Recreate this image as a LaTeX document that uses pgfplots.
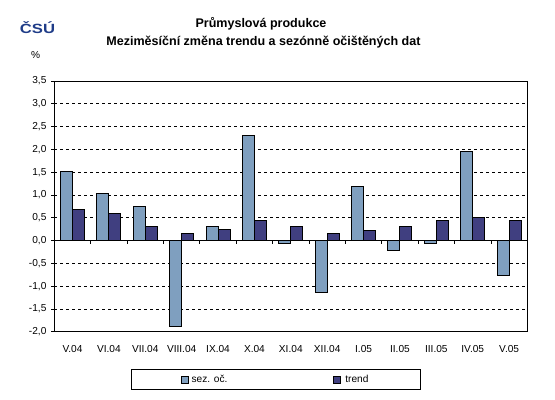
\documentclass[border=0pt]{standalone}
\usepackage{pgfplots}
\pgfplotsset{compat=1.18}
\usepackage{fontspec}
\setmainfont{Liberation Sans}
\definecolor{cSez}{HTML}{7F9FBF}
\definecolor{cTr}{HTML}{403F80}
\definecolor{cLogo}{HTML}{1F3C88}
\begin{document}
\begin{tikzpicture}
\path[use as bounding box] (0,0) rectangle (416.25pt,-299.25pt);
\node[font=\bfseries\fontsize{9.4}{11}\selectfont] at (195.75pt,-18.2pt) {Průmyslová produkce};
\node[font=\bfseries\fontsize{9.4}{11}\selectfont] at (197.6pt,-31.7pt) {Meziměsíční změna trendu a sezónně očištěných dat};
\node[font=\fontsize{7.6}{9}\selectfont] at (26.8pt,-41.25pt) {\%};
\node[font=\bfseries\fontsize{10}{11}\selectfont, text=cLogo] at (28.1pt,-21pt) {\scalebox{1.25}[1]{ČSÚ}};
\begin{axis}[
  at={(40.73pt,-248.78pt)}, anchor=south west,
  scale only axis, width=354.75pt, height=188pt,
  xmin=-0.5, xmax=12.5, ymin=-2, ymax=3.5,
  axis line style={line width=0.75pt},
  ytick={-2,-1.5,...,3.5},
  ymajorgrids, grid style={black, line width=0.6pt, dash pattern=on 2.25pt off 2.25pt},
  tick align=outside, major tick length=2.4pt,
  tick style={black, line width=0.6pt},
  ytick pos=left,
  yticklabel style={/pgf/number format/.cd, use comma, fixed, fixed zerofill, precision=1},
  /pgf/number format/assume math mode=true,
  xtick={0,...,12},
  xticklabels={V.04,VI.04,VII.04,VIII.04,IX.04,X.04,XI.04,XII.04,I.05,II.05,III.05,IV.05,V.05},
  x tick style={draw=none},
  xticklabel style={yshift=-4.3pt},
  tick label style={font=\fontsize{7.6}{9}\selectfont},
  ybar, bar width=0.33,
  legend style={at={(0.469,-0.1907)}, anchor=center, draw=black, line width=0.75pt,
    legend columns=2, font=\fontsize{7.6}{9}\selectfont,
    inner xsep=37pt, inner ysep=2pt},
  legend image code/.code={\draw[#1, line width=0.6pt] (0pt,-2.6pt) rectangle (5.2pt,2.6pt);},
]
\addplot[fill=cSez, draw=black, line width=0.75pt, bar shift=-0.165] coordinates {
 (0,1.51) (1,1.03) (2,0.75) (3,-1.89) (4,0.31) (5,2.30) (6,-0.06)
 (7,-1.14) (8,1.19) (9,-0.22) (10,-0.06) (11,1.96) (12,-0.77)};
\addlegendentry{\makebox[104pt][l]{sez. oč.}}
\addplot[fill=cTr, draw=black, line width=0.75pt, bar shift=0.165] coordinates {
 (0,0.68) (1,0.59) (2,0.31) (3,0.16) (4,0.24) (5,0.44) (6,0.31)
 (7,0.16) (8,0.22) (9,0.31) (10,0.44) (11,0.51) (12,0.44)};
\addlegendentry{\hspace{1.5pt}trend}
\draw[black, line width=0.75pt] (axis cs:-0.5,0) -- (axis cs:12.5,0);
\pgfplotsinvokeforeach{0.5,1.5,2.5,3.5,4.5,5.5,6.5,7.5,8.5,9.5,10.5,11.5}{
  \draw[black, line width=0.6pt] (axis cs:#1,0) -- ++(0pt,-2.4pt);
}
\end{axis}
\end{tikzpicture}
\end{document}
